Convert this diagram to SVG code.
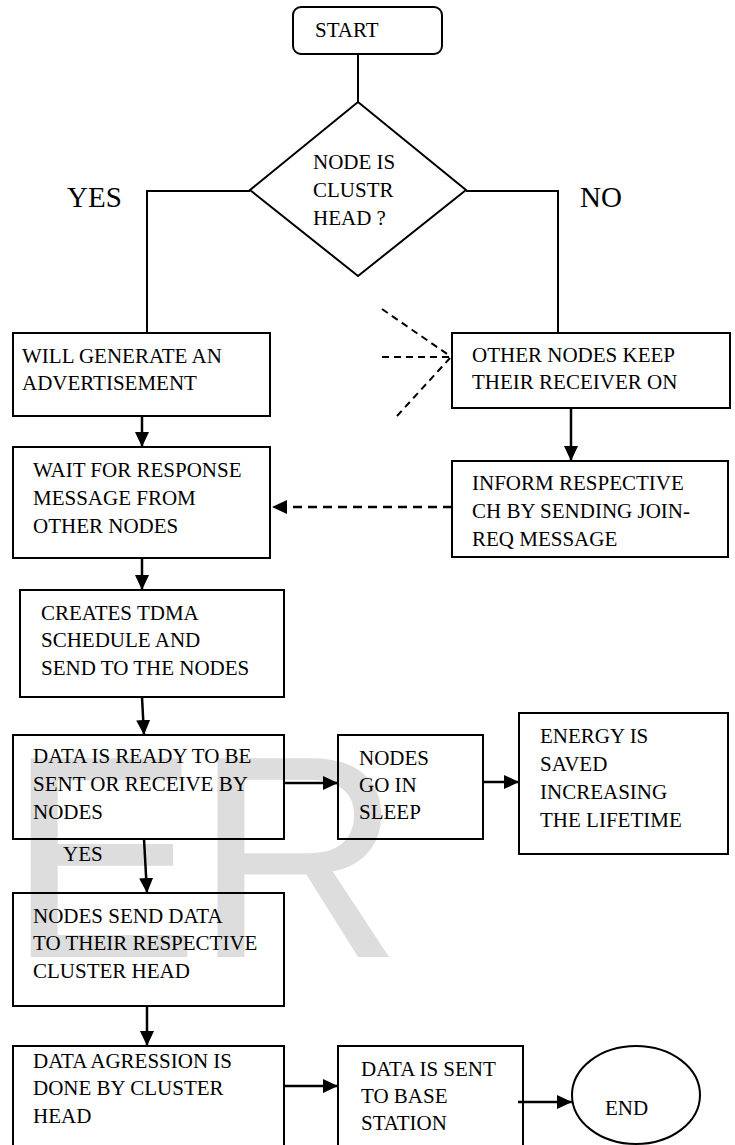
<svg xmlns="http://www.w3.org/2000/svg" width="735" height="1145" viewBox="0 0 735 1145">
<style>
.bg{fill:#ffffff}
.wm{font-family:"Liberation Sans",Arial,sans-serif;font-size:289px;fill:#dddddd;letter-spacing:-6px}
.box{fill:none;stroke:#000;stroke-width:2}
.t{font-family:"Liberation Serif","Times New Roman",serif;font-size:21px;fill:#000}
.big{font-family:"Liberation Serif","Times New Roman",serif;font-size:29px;fill:#000}
.ln{fill:none;stroke:#000;stroke-width:2}
.ar{fill:none;stroke:#000;stroke-width:2.5;marker-end:url(#ah)}
.dash{fill:none;stroke:#000;stroke-width:2;stroke-dasharray:7 5}
.dar{fill:none;stroke:#000;stroke-width:2.5;stroke-dasharray:9 6;marker-end:url(#ah)}
</style>
<defs>
<marker id="ah" markerUnits="userSpaceOnUse" markerWidth="16" markerHeight="14" refX="15" refY="7" orient="auto">
<path d="M0,0 L15,7 L0,14 Z" fill="#000"/>
</marker>
</defs>
<rect class="bg" x="0" y="0" width="735" height="1145"/>
<text class="wm" x="7" y="957">ER</text>

<g id="connectors">
<path class="ln" d="M358,54 L358,102"/>
<path class="ln" d="M250,191 L147,191 L147,333"/>
<path class="ln" d="M466,191 L558,191 L558,333"/>
<path class="ar" d="M142,416 L142,447"/>
<path class="ar" d="M571,408 L571,461"/>
<path class="dar" d="M452,507 L272,507"/>
<path class="dash" d="M382,309 L450,356"/>
<path class="dash" d="M382,357 L450,357"/>
<path class="dash" d="M397,416 L450,358"/>
<path class="ar" d="M142,558 L142,590"/>
<path class="ar" d="M142,697 L144,735"/>
<path class="ar" d="M284,783 L338,783"/>
<path class="ar" d="M483,782 L519,782"/>
<path class="ar" d="M144,839 L147,893"/>
<path class="ar" d="M147,1006 L147,1046"/>
<path class="ar" d="M284,1086 L338,1086"/>
<path class="ar" d="M518,1102 L572,1102"/>
</g>

<g id="start">
<rect class="box" x="293" y="7" width="149" height="47" rx="8"/>
<text class="t" x="315" y="37">START</text>
</g>
<g id="decision">
<path class="box" d="M358,102 L466,190 L358,276 L250,190 Z"/>
<text class="t" x="313" y="169">NODE IS</text>
<text class="t" x="313" y="197">CLUSTR</text>
<text class="t" x="313" y="225">HEAD ?</text>
</g>
<g id="label-yes"><text class="big" x="67" y="207">YES</text></g>
<g id="label-no"><text class="big" x="580" y="207">NO</text></g>

<g id="advertise">
<rect class="box" x="13" y="333" width="257" height="83"/>
<text class="t" x="22" y="363">WILL GENERATE AN</text>
<text class="t" x="22" y="390">ADVERTISEMENT</text>
</g>
<g id="wait">
<rect class="box" x="13" y="447" width="257" height="111"/>
<text class="t" x="33" y="477">WAIT FOR RESPONSE</text>
<text class="t" x="33" y="505">MESSAGE FROM</text>
<text class="t" x="33" y="533">OTHER NODES</text>
</g>
<g id="receiver">
<rect class="box" x="452" y="333" width="278" height="75"/>
<text class="t" x="472" y="362">OTHER NODES KEEP</text>
<text class="t" x="472" y="389">THEIR RECEIVER ON</text>
</g>
<g id="inform">
<rect class="box" x="452" y="461" width="276" height="96"/>
<text class="t" x="472" y="490">INFORM RESPECTIVE</text>
<text class="t" x="472" y="518">CH BY SENDING JOIN-</text>
<text class="t" x="472" y="546">REQ MESSAGE</text>
</g>
<g id="tdma">
<rect class="box" x="20" y="590" width="264" height="107"/>
<text class="t" x="41" y="620">CREATES TDMA</text>
<text class="t" x="41" y="647">SCHEDULE AND</text>
<text class="t" x="41" y="675">SEND TO THE NODES</text>
</g>
<g id="ready">
<rect class="box" x="13" y="735" width="271" height="104"/>
<text class="t" x="33" y="763">DATA IS READY TO BE</text>
<text class="t" x="33" y="791">SENT OR RECEIVE BY</text>
<text class="t" x="33" y="819">NODES</text>
</g>
<g id="sleep">
<rect class="box" x="338" y="735" width="145" height="104"/>
<text class="t" x="359" y="765">NODES</text>
<text class="t" x="359" y="792">GO IN</text>
<text class="t" x="359" y="819">SLEEP</text>
</g>
<g id="energy">
<rect class="box" x="519" y="713" width="209" height="141"/>
<text class="t" x="540" y="743">ENERGY IS</text>
<text class="t" x="540" y="771">SAVED</text>
<text class="t" x="540" y="799">INCREASING</text>
<text class="t" x="540" y="827">THE LIFETIME</text>
</g>
<g id="label-yes2"><text class="t" x="63" y="861">YES</text></g>
<g id="send">
<rect class="box" x="13" y="893" width="271" height="113"/>
<text class="t" x="33" y="923">NODES SEND DATA</text>
<text class="t" x="33" y="950">TO THEIR RESPECTIVE</text>
<text class="t" x="33" y="978">CLUSTER HEAD</text>
</g>
<g id="aggregation">
<rect class="box" x="13" y="1046" width="271" height="110"/>
<text class="t" x="33" y="1068">DATA AGRESSION IS</text>
<text class="t" x="33" y="1095">DONE BY CLUSTER</text>
<text class="t" x="33" y="1123">HEAD</text>
</g>
<g id="base">
<rect class="box" x="338" y="1046" width="185" height="110"/>
<text class="t" x="361" y="1076">DATA IS SENT</text>
<text class="t" x="361" y="1103">TO BASE</text>
<text class="t" x="361" y="1130">STATION</text>
</g>
<g id="end">
<ellipse class="box" cx="636" cy="1095" rx="64" ry="49"/>
<text class="t" x="605" y="1115">END</text>
</g>
</svg>
